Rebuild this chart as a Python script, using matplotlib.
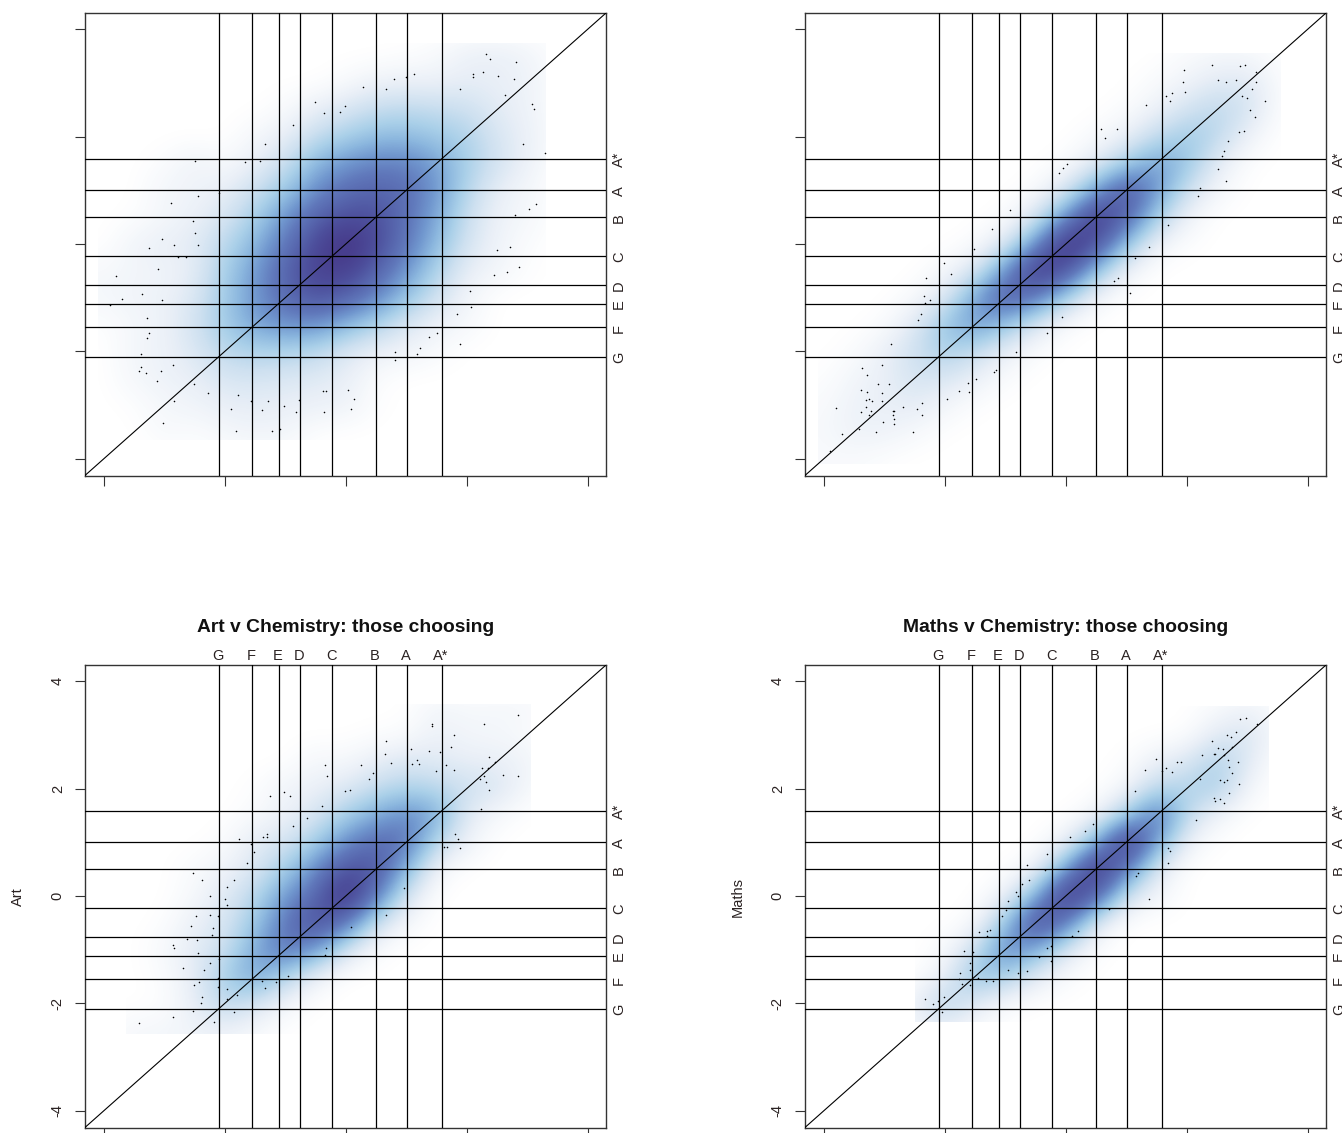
import matplotlib
matplotlib.use("Agg")
import matplotlib.pyplot as plt
import numpy as np
from matplotlib.colors import LinearSegmentedColormap
from matplotlib.patches import Rectangle

plt.rcParams['font.family'] = ['Liberation Sans', 'DejaVu Sans']

grade_names = ['G', 'F', 'E', 'D', 'C', 'B', 'A', 'A*']
grade_cuts = [-2.10, -1.55, -1.11, -0.76, -0.22, 0.50, 1.01, 1.59]
axis_ticks = [-4, -2, 0, 2, 4]

# density grids: rows y = 4 ... -4, columns x = -4 ... 4, step 0.5, scale 0-10
density_a = [
 [0,0,0,0,0,0,0,0,0,0,0,0,0,0,0,0,0],
 [0,0,0,0,0,0,0,0,0,0,.1,.3,.9,1,.7,.1,0],
 [0,0,0,0,0,0,0,0,.3,.8,.9,.9,1.1,1,.8,.1,0],
 [0,0,0,0,0,0,.3,1,1.6,2.2,2.4,2.2,2,1.2,.8,.1,0],
 [0,0,0,0,0,.5,1,2.2,3,3.7,3.8,3.3,2.8,1.6,.9,.2,0],
 [0,0,.2,.8,.3,1,2,4,5,5.6,5.6,4.6,3,1.8,.8,.1,0],
 [0,0,.6,.7,1,2,3.3,5.2,6.5,7,6.5,5,2.6,1,.5,.05,0],
 [0,.1,.5,.9,1.6,3,5,7,8,8,6.3,4.4,2,.8,.5,0,0],
 [0,.7,1,1.2,2.5,4,6,8.3,10,8.3,6,3.8,1.7,.7,.2,0,0],
 [.4,.6,.7,1.1,3,4.8,7,8.8,9,7,5,2.8,1,.6,.1,0,0],
 [.5,.7,.8,1.5,3.2,5,6.6,7.8,7,5.5,3.5,1.8,.6,0,0,0,0],
 [.1,.5,.8,1.8,3.2,4.6,5.2,5.2,4,2.8,1.5,.8,.4,0,0,0,0],
 [0,.6,.8,1.5,2.5,2.8,2.8,2.5,1.5,.9,.7,.3,0,0,0,0,0],
 [0,.5,.8,1,1.6,1.7,1.5,1.3,1,.2,0,0,0,0,0,0,0],
 [0,.1,.5,.7,1,1.1,1,.9,.8,.1,0,0,0,0,0,0,0],
 [0,0,.4,.2,.5,.7,.6,.1,0,0,0,0,0,0,0,0,0],
 [0,0,0,0,.1,.1,.1,0,0,0,0,0,0,0,0,0,0],
]
density_b = [
 [0,0,0,0,0,0,0,0,0,0,0,0,0,0,0,0,0],
 [0,0,0,0,0,0,0,0,0,0,0,0,.3,.5,.5,.1,0],
 [0,0,0,0,0,0,0,0,0,0,0,.3,.7,1.3,1.4,.3,0],
 [0,0,0,0,0,0,0,0,0,0,.2,.8,1.8,2.5,1.8,.2,0],
 [0,0,0,0,0,0,0,0,0,.3,.9,2.3,3.3,2.5,.8,0,0],
 [0,0,0,0,0,0,0,0,.2,1.2,3,4.8,3.5,1.2,.1,0,0],
 [0,0,0,0,0,0,0,.2,1.5,4.5,7.8,5,2,.5,0,0,0],
 [0,0,0,0,0,0,.1,1.5,5,9.4,7,3,.7,0,0,0,0],
 [0,0,0,0,0,.2,1.3,5,10,8,3.5,.7,.1,0,0,0,0],
 [0,0,0,0,.4,1.5,5,9.5,8,3.5,.7,0,0,0,0,0,0],
 [0,0,0,.3,1.4,4.6,7.5,6,2.8,.5,0,0,0,0,0,0,0],
 [0,0,.2,1.3,3.5,5,3.5,1.5,.2,0,0,0,0,0,0,0,0],
 [0,.2,.9,2,3,2.2,1,.2,0,0,0,0,0,0,0,0,0],
 [.1,.6,1,1.7,1.6,.9,.2,0,0,0,0,0,0,0,0,0,0],
 [.3,.8,1,1.2,.6,.1,0,0,0,0,0,0,0,0,0,0,0],
 [.4,.8,.8,.4,.05,0,0,0,0,0,0,0,0,0,0,0,0],
 [.3,.3,.1,0,0,0,0,0,0,0,0,0,0,0,0,0,0],
]
density_c = [
 [0,0,0,0,0,0,0,0,0,0,0,0,0,0,0,0,0],
 [0,0,0,0,0,0,0,0,0,0,0,.6,.4,.5,.5,0,0],
 [0,0,0,0,0,0,0,0,0,.1,.2,.9,.6,.5,.3,0,0],
 [0,0,0,0,0,0,0,.5,.4,1,1.5,1.3,1,1,.7,0,0],
 [0,0,0,0,0,.1,.7,.9,1.4,2.2,2.8,2.5,2,1.6,.5,0,0],
 [0,0,0,0,0,.3,.8,1.6,3,4.3,5.4,4.5,1.2,.4,0,0,0],
 [0,0,0,0,.2,1.2,1.7,3,5.2,6.6,6.3,2.5,.8,0,0,0,0],
 [0,0,0,.3,.7,1.5,3,5.3,7.8,7.8,4,.6,0,0,0,0,0],
 [0,0,0,.4,1.3,2.5,4.8,6.7,10,6,1.7,0,0,0,0,0,0],
 [0,0,.1,.9,1.6,3.3,6,8.2,6.3,2,.4,0,0,0,0,0,0],
 [0,0,.4,1.2,2,4.3,6.3,5,1.7,.2,0,0,0,0,0,0,0],
 [0,0,.2,1.1,3,4.7,2.8,.8,0,0,0,0,0,0,0,0,0],
 [0,0,.1,1,2.6,1.7,.6,0,0,0,0,0,0,0,0,0,0],
 [0,.5,.5,.7,.8,.4,0,0,0,0,0,0,0,0,0,0,0],
 [0,.5,.5,.6,.6,.2,0,0,0,0,0,0,0,0,0,0,0],
 [0,0,0,0,0,0,0,0,0,0,0,0,0,0,0,0,0],
 [0,0,0,0,0,0,0,0,0,0,0,0,0,0,0,0,0],
]
density_d = [
 [0,0,0,0,0,0,0,0,0,0,0,0,0,0,0,0,0],
 [0,0,0,0,0,0,0,0,0,0,0,0,0,.3,.8,.1,0],
 [0,0,0,0,0,0,0,0,0,0,0,0,.1,1.3,1.6,.4,0],
 [0,0,0,0,0,0,0,0,0,0,.1,.9,1.5,3,1.3,0,0],
 [0,0,0,0,0,0,0,0,0,0,.5,2.5,2.8,3,.5,0,0],
 [0,0,0,0,0,0,0,0,0,.6,3,6.5,2.3,.6,0,0,0],
 [0,0,0,0,0,0,0,0,.8,4,9.8,4.5,.7,0,0,0,0],
 [0,0,0,0,0,0,0,.7,4.5,10,5.8,1.3,0,0,0,0,0],
 [0,0,0,0,0,0,.7,4,9.8,7,1.7,.5,0,0,0,0,0],
 [0,0,0,0,0,.3,3.3,8.6,6,1.2,0,0,0,0,0,0,0],
 [0,0,0,0,.3,2,5.8,4.3,1.5,.1,0,0,0,0,0,0,0],
 [0,0,0,0,.9,3.8,3,1.2,.2,0,0,0,0,0,0,0,0],
 [0,0,0,.8,2.8,1.2,.3,0,0,0,0,0,0,0,0,0,0],
 [0,0,0,.6,.8,.2,0,0,0,0,0,0,0,0,0,0,0],
 [0,0,0,0,0,0,0,0,0,0,0,0,0,0,0,0,0],
 [0,0,0,0,0,0,0,0,0,0,0,0,0,0,0,0,0],
 [0,0,0,0,0,0,0,0,0,0,0,0,0,0,0,0,0],
]

# density bounds (x0, x1, y0, y1)
bounds_a = (-4.1, 3.3, -3.65, 3.75)
bounds_b = (-4.1, 3.55, -4.1, 3.55)
bounds_c = (-3.63, 3.06, -2.57, 3.58)
bounds_d = (-2.5, 3.34, -2.35, 3.53)

points_a_x = [2.31,2.38,2.82,2.10,2.10,2.27,2.52,2.78,1.88,1.12,0.99,0.79,0.66,0.28,2.63,3.07,3.11,-0.51,-0.36,-0.09,-0.02,-0.87,-1.33,2.93,3.29,-2.50,-1.66,-1.42,-2.44,-2.09,-2.89,3.14,3.02,2.80,-2.53,-2.49,-3.04,-2.84,-2.44,-3.26,2.50,2.72,-2.77,-2.64,2.87,-3.10,2.67,2.45,-3.79,2.05,-3.37,-3.70,-3.04,-3.90,2.07,1.83,-3.28,-3.26,-3.28,1.50,1.37,1.23,1.17,0.81,0.81,1.88,-3.39,-3.39,-3.41,-3.30,-3.06,-2.86,-3.12,-2.51,-2.28,-1.78,-2.84,-1.89,-1.57,-1.38,-1.29,-1.02,-0.82,-0.78,-0.38,-0.32,0.04,0.13,0.08,-0.36,-3.02,-1.82,-1.22,-1.09]
points_a_y = [3.53,3.45,3.38,3.16,3.11,3.21,3.13,3.08,2.88,3.16,3.11,3.08,2.88,2.93,2.78,2.61,2.51,2.64,2.44,2.46,2.56,2.21,1.87,1.87,1.69,1.54,1.52,1.54,0.89,0.94,0.77,0.75,0.65,0.54,0.42,0.20,0.10,-0.02,-0.02,-0.07,-0.12,-0.05,-0.25,-0.25,-0.42,-0.47,-0.52,-0.57,-0.60,-0.87,-0.94,-1.02,-1.04,-1.14,-1.17,-1.30,-1.37,-1.66,-1.76,-1.66,-1.74,-1.94,-2.04,-2.02,-2.16,-1.87,-2.04,-2.29,-2.36,-2.41,-2.36,-2.26,-2.56,-2.61,-2.78,-2.81,-2.93,-3.08,-2.93,-3.09,-2.93,-3.01,-3.13,-2.91,-2.73,-2.73,-2.71,-2.88,-3.08,-3.13,-3.33,-3.48,-3.48,-3.45]

points_b_x = [2.42,2.88,2.96,1.95,3.15,3.15,2.52,2.65,2.82,1.93,1.97,1.66,1.75,1.73,3.08,2.91,2.99,3.30,1.33,3.04,3.12,0.58,0.84,0.64,2.86,2.94,2.68,2.61,2.58,0.02,-0.05,-0.11,2.51,2.64,2.21,2.19,-0.93,-1.22,1.69,-1.51,1.38,1.15,-2.02,-1.89,-2.31,0.86,0.80,-2.35,-2.24,-2.32,1.06,-2.39,-2.44,-0.07,-0.24,-0.31,-0.82,-2.89,-1.15,-1.18,-1.49,-1.62,-1.77,-1.60,-1.96,-3.37,-3.03,-3.28,-3.10,-2.93,-3.39,-3.28,-3.03,-3.26,-3.30,-3.20,-3.03,-3.30,-3.79,-3.22,-3.39,-3.26,-2.86,-2.84,-2.86,-2.84,-2.84,-3.02,-2.69,-2.46,-2.38,-2.38,-3.13,-2.53,-3.70,-3.42,-3.89]
points_b_y = [3.33,3.31,3.33,3.23,3.21,3.01,3.06,3.02,3.06,3.01,2.83,2.76,2.81,2.66,2.88,2.76,2.71,2.66,2.59,2.49,2.36,2.14,2.14,1.97,2.09,2.11,1.92,1.74,1.64,1.49,1.42,1.32,1.40,1.17,1.04,0.90,0.64,0.27,0.35,-0.10,-0.05,-0.27,-0.35,-0.55,-0.64,-0.64,-0.69,-0.97,-1.04,-1.09,-0.92,-1.31,-1.41,-1.36,-1.54,-1.66,-2.01,-1.86,-2.34,-2.39,-2.51,-2.59,-2.73,-2.76,-2.88,-2.31,-2.26,-2.44,-2.61,-2.61,-2.71,-2.76,-2.77,-2.88,-2.91,-2.93,-2.93,-3.03,-3.06,-3.11,-3.13,-3.18,-3.11,-3.11,-3.18,-3.26,-3.36,-3.31,-3.03,-3.08,-2.96,-3.18,-3.50,-3.50,-3.53,-3.45,-3.85]

points_c_x = [2.85,2.29,1.43,1.43,1.78,0.67,1.74,1.07,0.65,1.38,1.56,1.18,1.09,1.21,0.74,2.36,2.47,1.66,1.49,1.78,2.25,2.35,-0.35,-0.31,0.25,0.45,0.38,2.60,2.85,2.29,2.21,2.32,2.36,-0.02,0.07,-1.26,-1.02,-0.92,-0.39,2.23,-0.64,-0.88,-1.30,-1.37,-1.30,-1.77,-1.56,-1.51,1.81,1.85,1.63,1.67,1.89,-1.64,-2.53,-2.37,-1.84,-1.97,0.96,-2.24,-2.00,-1.96,0.67,-2.48,-2.24,-2.12,-2.55,0.09,-2.19,-2.21,-2.62,-2.46,-2.86,-2.84,-2.44,-0.33,-0.35,-2.09,-2.24,-2.69,-2.35,-2.12,-0.96,-1.39,-1.15,-2.42,-2.51,-2.12,-1.33,-1.96,-1.79,-1.97,-2.37,-2.40,-2.53,-1.84,-2.86,-2.17,-3.41]
points_c_y = [3.37,3.20,3.21,3.16,3.00,2.88,2.78,2.73,2.65,2.70,2.68,2.53,2.45,2.45,2.48,2.58,2.50,2.43,2.33,2.35,2.38,2.38,2.43,2.23,2.43,2.28,2.18,2.25,2.23,2.23,2.18,2.13,1.98,1.96,1.98,1.86,1.93,1.86,1.68,1.61,1.46,1.31,1.16,1.09,1.09,1.06,0.96,0.81,1.16,1.06,0.91,0.91,0.89,0.61,0.42,0.30,0.30,0.17,0.15,0.00,-0.05,-0.17,-0.35,-0.37,-0.35,-0.37,-0.55,-0.57,-0.60,-0.72,-0.80,-0.82,-0.92,-0.97,-1.07,-0.97,-1.09,-1.17,-1.24,-1.34,-1.37,-1.52,-1.49,-1.59,-1.61,-1.61,-1.66,-1.69,-1.71,-1.74,-1.84,-1.91,-1.89,-1.99,-2.14,-2.16,-2.26,-2.34,-2.36]

points_d_x = [2.88,2.98,3.16,2.67,2.82,2.73,2.42,2.51,2.59,2.75,2.25,2.45,2.47,2.61,1.49,1.84,1.91,2.68,2.84,1.31,1.59,1.66,1.75,2.69,2.74,2.22,2.55,2.61,2.67,2.86,1.14,2.69,2.45,2.55,2.47,2.62,2.15,0.45,0.32,0.07,1.69,1.72,-0.31,1.69,-0.64,-0.35,1.20,1.16,-0.60,-0.73,-0.83,-0.79,1.38,-0.95,0.72,-0.99,-1.05,-1.44,-1.30,-1.25,0.20,0.10,-1.30,-1.68,-1.53,-0.24,-0.31,-0.45,-0.24,-1.59,-1.59,-0.95,-0.64,-1.75,-0.79,-1.77,-1.45,-1.32,-1.21,-1.72,-1.59,-2.32,-2.01,-2.12,-2.19,-2.04]
points_d_y = [3.30,3.32,3.20,3.00,3.05,2.96,2.88,2.75,2.73,2.78,2.63,2.65,2.65,2.63,2.55,2.50,2.50,2.53,2.50,2.35,2.33,2.38,2.30,2.40,2.28,2.18,2.16,2.13,2.16,2.08,1.96,1.91,1.83,1.81,1.76,1.73,1.41,1.34,1.21,1.09,0.89,0.84,0.79,0.61,0.57,0.49,0.42,0.37,0.29,0.22,0.07,0.00,-0.05,-0.10,-0.25,-0.27,-0.37,-0.68,-0.65,-0.63,-0.65,-0.75,-0.75,-1.02,-1.04,-0.94,-0.97,-1.14,-1.22,-1.24,-1.37,-1.37,-1.39,-1.44,-1.44,-1.54,-1.52,-1.59,-1.59,-1.64,-1.66,-1.91,-1.89,-1.96,-2.01,-2.16]

colour_ramp = ['#ffffff', '#e9eff7', '#cde0f0', '#aad0e9', '#8bb6de', '#7096ce',
               '#6078bb', '#5664ac', '#4d4f9c', '#483f8e', '#463a86']

FIG_W, FIG_H = 1342, 1133
fig = plt.figure(figsize=(FIG_W / 100, FIG_H / 100), dpi=100, facecolor='white')
cmap = LinearSegmentedColormap.from_list('density', colour_ramp, N=256)
DARK = '#000000'
TEXT = '#2a2222'


def panel(left, top, density, bounds, px, py, title=None, ylabel=None):
    w, h = 521, 463
    ax = fig.add_axes([left / FIG_W, 1 - (top + h) / FIG_H, w / FIG_W, h / FIG_H])
    im = ax.imshow(density, extent=(-4.25, 4.25, -4.25, 4.25), origin='upper', cmap=cmap,
                   vmin=0, vmax=10, interpolation='bicubic', interpolation_stage='data',
                   aspect='auto', zorder=1)
    x0, x1, y0, y1 = bounds
    im.set_clip_path(Rectangle((x0, y0), x1 - x0, y1 - y0, transform=ax.transData))
    ax.set_xlim(-4.31, 4.30)
    ax.set_ylim(-4.32, 4.30)
    ax.scatter(px, py, s=1.3, c='black', linewidths=0, zorder=2)
    for c in grade_cuts:
        ax.axvline(c, color=DARK, lw=0.9, zorder=3)
        ax.axhline(c, color=DARK, lw=0.9, zorder=3)
    ax.plot([-4.31, 4.30], [-4.31, 4.30], color=DARK, lw=0.8, zorder=3)
    for s in ax.spines.values():
        s.set_linewidth(1.0)
        s.set_color('#333333')
    ax.set_xticks(axis_ticks)
    ax.set_yticks(axis_ticks)
    ax.set_xticklabels([])
    ax.tick_params(length=7.5, width=0.8, color='#333333')
    if title is None:
        ax.set_yticklabels([])
    else:
        ax.set_yticklabels([str(v) for v in axis_ticks], rotation=90, va='center',
                           fontsize=10.5, color=TEXT)
        ax.tick_params(axis='y', pad=7)
        ax.annotate(ylabel, (0, 0.5), xycoords='axes fraction', xytext=(-48.5, 0),
                    textcoords='offset points', rotation=90, ha='center', va='center',
                    fontsize=10.5, color=TEXT, annotation_clip=False)
        ax.annotate(title, (0.5, 1), xycoords='axes fraction', xytext=(0, 27),
                    textcoords='offset points', ha='center', va='center',
                    fontsize=13.9, fontweight='bold', color='#111111')
        for name, c in zip(grade_names, grade_cuts):
            ax.annotate(name, (c, 1), xycoords=ax.get_xaxis_transform(), xytext=(-0.7, 1.5),
                        textcoords='offset points', ha='center', va='bottom',
                        fontsize=10.5, color=TEXT)
    for name, c in zip(grade_names, grade_cuts):
        ax.annotate(name, (1, c), xycoords=ax.get_yaxis_transform(), xytext=(9.5, -0.7),
                    textcoords='offset points', ha='center', va='center', rotation=90,
                    fontsize=10.5, color=TEXT, annotation_clip=False)
    return ax


panel(85, 13, density_a, bounds_a, points_a_x, points_a_y)
panel(805, 13, density_b, bounds_b, points_b_x, points_b_y)
panel(85, 665, density_c, bounds_c, points_c_x, points_c_y,
      title='Art v Chemistry: those choosing', ylabel='Art')
panel(805, 665, density_d, bounds_d, points_d_x, points_d_y,
      title='Maths v Chemistry: those choosing', ylabel='Maths')

fig.savefig('out.png', dpi=100, facecolor='white')
